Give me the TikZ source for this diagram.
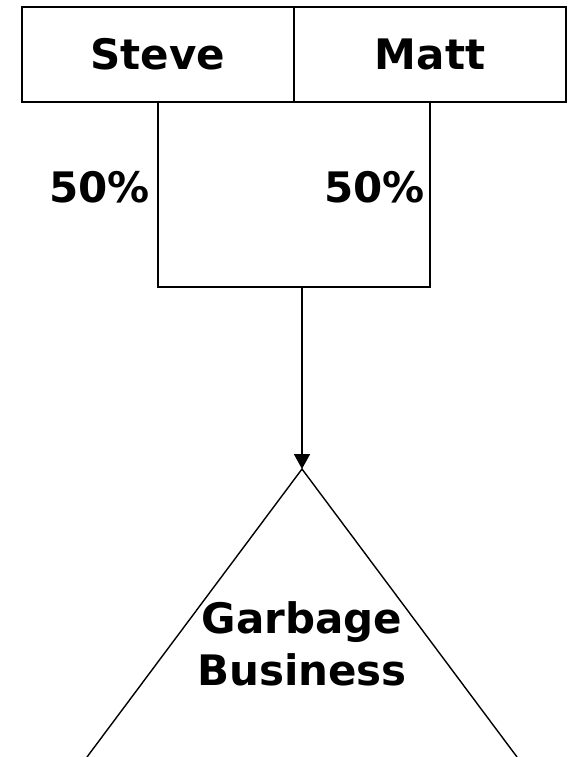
\documentclass[tikz,border=0pt]{standalone}
\usepackage{fontspec}
\setmainfont{DejaVu Sans}
\usepackage{tikz}
\usetikzlibrary{arrows.meta,calc,positioning}

\begin{document}
\begin{tikzpicture}[x=1pt,y=-1pt,inner sep=0pt,outer sep=0pt,font=\fontsize{42}{52}\selectfont\bfseries,
    owner/.style={draw,line width=2pt,minimum width=272pt,minimum height=95pt},
    link/.style={line width=1.8pt},
    share/.style={anchor=east}]
    \useasboundingbox (0,0) rectangle (568,757);
    % the two owners side by side
    \node[owner] (steve) at (158,54.5) {Steve};
    \node[owner,right=0pt of steve] (matt) {Matt};
    % ownership split
    \coordinate (fork) at (302,287);
    \draw[link] (steve.south) |- (fork) -| (matt.south);
    \node[share] (shareS) at (150,187) {50\%};
    \node[share] (shareM) at (425,187) {50\%};
    % the business
    \coordinate (apex) at (302,469);
    \draw[line width=1.4pt] (87,757) -- (apex) -- (517,757);
    \node[align=center] (biz) at (302,644) {Garbage\\Business};
    \draw[link,-{Triangle[width=16pt,length=15pt]}] (fork) -- (apex);
  \end{tikzpicture}
\end{document}
